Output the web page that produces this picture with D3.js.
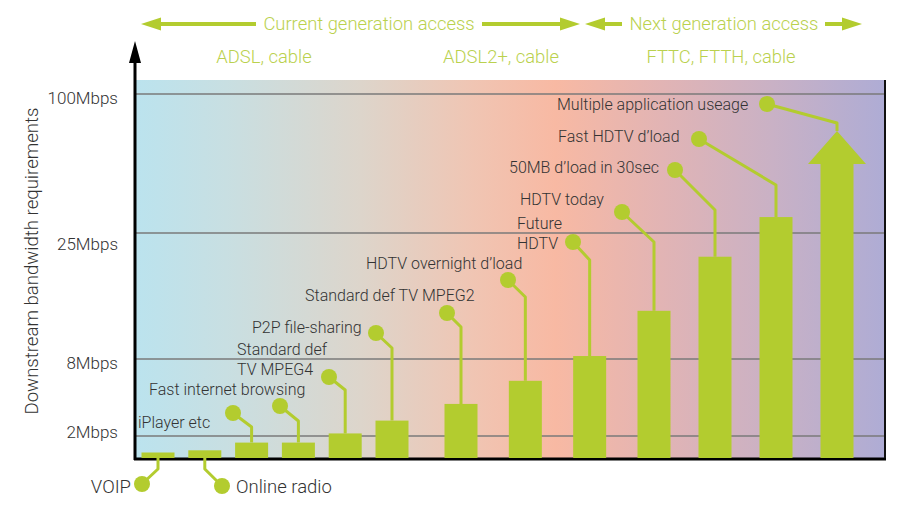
<!DOCTYPE html>
<html><head><meta charset="utf-8">
<script src="https://cdn.jsdelivr.net/npm/d3@7"></script>
<style>body{margin:0;background:#fff}svg{display:block;font-family:Roboto,"Liberation Sans",sans-serif}</style>
</head><body>
<svg id="chart" width="918" height="520"></svg>
<script>
// ---- data ----
const categories = ["VOIP","Online radio","iPlayer etc","Fast internet browsing","Standard def TV MPEG4","P2P file-sharing","Standard def TV MPEG2","HDTV overnight d’load","Future HDTV","HDTV today","50MB d’load in 30sec","Fast HDTV d’load","Multiple application useage"];
const values = [0.5,0.7,1.4,1.4,2.2,3.2,4.5,6.3,8.4,14.5,21.8,33.6,80];
const labelLines = [["VOIP"],["Online radio"],["iPlayer etc"],["Fast internet browsing"],["Standard def","TV MPEG4"],["P2P file-sharing"],["Standard def TV MPEG2"],["HDTV overnight d’load"],["Future","HDTV"],["HDTV today"],["50MB d’load in 30sec"],["Fast HDTV d’load"],["Multiple application useage"]];
const tickValues = [2,8,25,100];
const tickLabels = ["2Mbps","8Mbps","25Mbps","100Mbps"];
const yTitle = "Downstream bandwidth requirements";
const generations = ["Current generation access","Next generation access"];
const technologies = ["ADSL, cable","ADSL2+, cable","FTTC, FTTH, cable"];

// ---- layout (annotation placement, pixels) ----
const tickOffsets = [-5, 3, 10, 3];
const callouts = [
  {dot:[142,484], elbowY:469, text:[131,487], anchor:"end"},
  {dot:[222,486], elbowY:469, text:[236,487], anchor:"start"},
  {dot:[233,413], elbowY:427, text:[138,422], anchor:"start"},
  {dot:[280,406], elbowY:421, text:[149,389], anchor:"start"},
  {dot:[329,377], elbowY:390, text:[237,349], anchor:"start"},
  {dot:[376,333], elbowY:348, text:[252,327], anchor:"start"},
  {dot:[447,313], elbowY:327, text:[305,295], anchor:"start"},
  {dot:[508,280], elbowY:297, text:[366,263], anchor:"start"},
  {dot:[573,242], elbowY:260, text:[517,223], anchor:"start"},
  {dot:[622,212], elbowY:242, text:[520,199], anchor:"start"},
  {dot:[675,170], elbowY:210, text:[509,167], anchor:"start"},
  {dot:[699,139], elbowY:185, text:[558,136], anchor:"start"},
  {dot:[767,104], elbowY:123, text:[557,104], anchor:"start"}
];

const GREEN = "#b3cc2f", TEXTGREEN = "#bad14e", TEXT = "#333";
const svg = d3.select("#chart");
const pLeft = 135, pRight = 885, pTop = 80, pBase = 458;

const y = d3.scaleLinear().domain([0,2,8,25,100]).range([pBase,436,359,233,94]);
const x = d3.scaleLinear().domain([0,5,6,9,12]).range([158,392,461,654,837]);
const barW = 33;

// background gradient
const defs = svg.append("defs");
const grad = defs.append("linearGradient").attr("id","bg").attr("x1","0").attr("x2","1").attr("y1","0").attr("y2","0");
[[0,"#bbe3ee"],[0.12,"#c8dfe2"],[0.3,"#ddd5cb"],[0.45,"#f0c5b3"],[0.56,"#f8b9a3"],[0.7,"#e2b4b4"],[0.85,"#c9b1c5"],[1,"#aeacd5"]]
  .forEach(([o,c])=>grad.append("stop").attr("offset",o).attr("stop-color",c));
svg.append("rect").attr("x",pLeft+1).attr("y",pTop).attr("width",pRight-pLeft-1).attr("height",pBase-pTop).attr("fill","url(#bg)");

// gridlines
svg.append("g").selectAll("line").data(tickValues).join("line")
  .attr("x1",pLeft).attr("x2",pRight).attr("y1",d=>y(d)).attr("y2",d=>y(d))
  .attr("stroke","#7a7a7a").attr("stroke-width",1.4);

// y axis labels
const yAxis = d3.axisLeft(y).tickValues(tickValues).tickFormat((d,i)=>tickLabels[i]).tickSize(0).tickPadding(17);
const ga = svg.append("g").attr("transform",`translate(${pLeft},0)`).call(yAxis);
ga.select(".domain").remove();
ga.selectAll("text").attr("font-size",17).attr("font-weight",300).attr("fill",TEXT).attr("font-family","Roboto, sans-serif")
  .attr("dy","0.36em").attr("y",(d,i)=>tickOffsets[i]);

// axes lines
svg.append("line").attr("x1",pLeft).attr("x2",pLeft).attr("y1",60).attr("y2",pBase+2).attr("stroke","#000").attr("stroke-width",3);
svg.append("path").attr("d",`M${pLeft},41 L${pLeft-6},63 L${pLeft+6},63 Z`).attr("fill","#000");
svg.append("line").attr("x1",pLeft-1).attr("x2",pRight+1).attr("y1",pBase+1).attr("y2",pBase+1).attr("stroke","#000").attr("stroke-width",3);
svg.append("line").attr("x1",pRight).attr("x2",pRight).attr("y1",pTop).attr("y2",pBase).attr("stroke","#111").attr("stroke-width",2);

// y title
svg.append("text").attr("transform","translate(31,261) rotate(-90)").attr("text-anchor","middle").attr("dy","0.35em")
  .attr("font-size",18.6).attr("font-weight",300).attr("fill",TEXT).text(yTitle);

// callout lines
const data = categories.map((c,i)=>({c,v:values[i],lines:labelLines[i],co:callouts[i],i}));
svg.append("g").selectAll("path").data(data).join("path")
  .attr("d",d=>{
    const cx = x(d.i), [dx,dy] = d.co.dot;
    const startY = d.co.elbowY > pBase ? pBase : y(d.v);
    return `M${cx},${startY} L${cx},${d.co.elbowY} L${dx},${dy}`;
  })
  .attr("fill","none").attr("stroke",GREEN).attr("stroke-width",3).attr("stroke-linejoin","round");

// bars (all but last)
const last = data.length-1;
svg.append("g").selectAll("rect").data(data.filter(d=>d.i<last)).join("rect")
  .attr("x",d=>x(d.i)-barW/2).attr("width",barW)
  .attr("y",d=>y(d.v)).attr("height",d=>pBase-y(d.v)).attr("fill",GREEN);

// last as arrow
const dl = data[last];
const acx = x(last), tipY = y(dl.v), headH = 33, headHalf = 29;
svg.append("path").attr("fill",GREEN)
  .attr("d",`M${acx},${tipY} L${acx+headHalf},${tipY+headH} L${acx+barW/2},${tipY+headH} L${acx+barW/2},${pBase} L${acx-barW/2},${pBase} L${acx-barW/2},${tipY+headH} L${acx-headHalf},${tipY+headH} Z`);

// dots
svg.append("g").selectAll("circle").data(data).join("circle")
  .attr("cx",d=>d.co.dot[0]).attr("cy",d=>d.co.dot[1]).attr("r",8).attr("fill",GREEN);

// labels
const lg = svg.append("g").attr("font-size",16).attr("font-weight",300).attr("fill",TEXT);
data.forEach(d=>{
  const t = lg.append("text").attr("x",d.co.text[0]).attr("y",d.co.text[1]).attr("text-anchor",d.co.anchor);
  if (d.i<2) t.attr("font-size",18.5);
  d.lines.forEach((l,k)=>{
    t.append("tspan").attr("x",d.co.text[0]).attr("dy",k===0?"0.35em":"1.3em").text(l);
  });
});

// header arrows
const hg = svg.append("g");
function arrowHead(tipX, yy, dir){
  hg.append("path").attr("fill",GREEN)
    .attr("d",`M${tipX},${yy} L${tipX-dir*20},${yy-6.5} L${tipX-dir*20},${yy+6.5} Z`);
}
function seg(x1,x2,yy){hg.append("line").attr("x1",x1).attr("x2",x2).attr("y1",yy).attr("y2",yy).attr("stroke",GREEN).attr("stroke-width",4);}
const hy = 24;
seg(155,256,hy); arrowHead(141,hy,-1);
seg(482,566,hy); arrowHead(580,hy,1);
seg(600,622,hy); arrowHead(585,hy,-1);
seg(825,846,hy); arrowHead(862,hy,1);
const genX = [369,724];
hg.selectAll("text.gen").data(generations).join("text").attr("class","gen")
  .attr("x",(d,i)=>genX[i]).attr("y",hy).attr("dy","0.35em").attr("text-anchor","middle")
  .attr("font-size",18.4).attr("font-weight",300).attr("fill",TEXTGREEN).text(d=>d);
const techX = [264,501,721];
hg.selectAll("text.tech").data(technologies).join("text").attr("class","tech")
  .attr("x",(d,i)=>techX[i]).attr("y",57).attr("dy","0.35em").attr("text-anchor","middle")
  .attr("font-size",18.4).attr("font-weight",300).attr("fill",TEXTGREEN).text(d=>d);
</script>
</body></html>
